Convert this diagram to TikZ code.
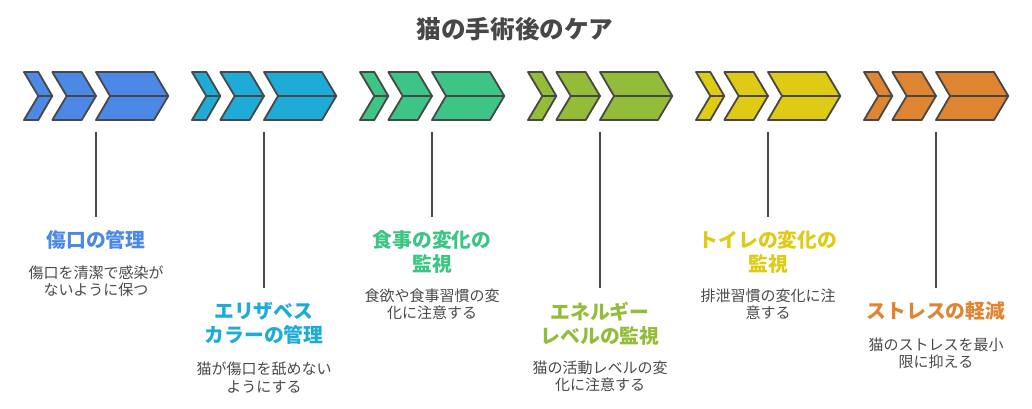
\documentclass[tikz,border=0pt]{standalone}
\usepackage{fontspec}
\setmainfont{Noto Sans CJK JP}
\definecolor{cblue}{HTML}{4C88E6}
\definecolor{ccyan}{HTML}{1FABD8}
\definecolor{cgreen}{HTML}{3CC584}
\definecolor{colive}{HTML}{93BD39}
\definecolor{cyellow}{HTML}{DFCB15}
\definecolor{corange}{HTML}{DF8531}
\definecolor{edge}{HTML}{474747}
\definecolor{desc}{HTML}{4A4A4A}
\tikzset{
  chev/.style={draw=edge, line width=1.8pt, line join=round},
  chevmid/.style={draw=edge, line width=1.8pt, line cap=round},
  conn/.style={draw=edge, line width=2pt},
  ttl/.style={anchor=north, inner sep=0pt, align=center, font=\fontsize{19.8}{24.5}\selectfont\bfseries},
  dsc/.style={anchor=north, inner sep=0pt, align=center, text=desc, font=\fontsize{15}{17.5}\selectfont},
}
\newcommand\chevgroup[2]{%
  \begin{scope}[xshift=#1pt]
    \path[chev, fill=#2] (0,72) -- (14.3,72) -- (28.3,96) -- (14.3,120) -- (0,120) -- (14.3,96) -- cycle;
    \draw[chevmid] (14.3,96) -- (28.3,96);
    \path[chev, fill=#2] (28.3,72) -- (57.7,72) -- (72,96) -- (57.7,120) -- (28.3,120) -- (42.7,96) -- cycle;
    \draw[chevmid] (42.7,96) -- (72,96);
    \path[chev, fill=#2] (72,72) -- (130,72) -- (144.3,96) -- (130,120) -- (72,120) -- (86,96) -- cycle;
    \draw[chevmid] (86,96) -- (144.3,96);
  \end{scope}}
\begin{document}
\begin{tikzpicture}[x=1pt,y=-1pt]
\useasboundingbox[fill=white] (0,0) rectangle (1032,408);
\node[inner sep=0pt, text=edge, font=\fontsize{24.6}{28}\selectfont\bfseries] (title) at (515,29) {猫の手術後のケア};

\chevgroup{24}{cblue}
\chevgroup{192}{ccyan}
\chevgroup{360}{cgreen}
\chevgroup{528}{colive}
\chevgroup{696}{cyellow}
\chevgroup{864}{corange}

% group 1
\coordinate (s1) at (96,131.7);
\coordinate (e1) at (96,216.7);
\node[ttl, text=cblue] (t1) at (96,230) {傷口の管理};
\node[dsc] (d1) at (96,265.3) {傷口を清潔で感染が\\ないように保つ};
\draw[conn] (s1) -- (e1);

% group 2
\coordinate (s2) at (264,131.7);
\coordinate (e2) at (264,288);
\node[ttl, text=ccyan] (t2) at (264,301.7) {エリザベス\\カラーの管理};
\node[dsc] (d2) at (264,361.6) {猫が傷口を舐めない\\ようにする};
\draw[conn] (s2) -- (e2);

% group 3
\coordinate (s3) at (432,131.7);
\coordinate (e3) at (432,216.7);
\node[ttl, text=cgreen] (t3) at (432,230) {食事の変化の\\監視};
\node[dsc] (d3) at (432,288.6) {食欲や食事習慣の変\\化に注意する};
\draw[conn] (s3) -- (e3);

% group 4
\coordinate (s4) at (600,131.7);
\coordinate (e4) at (600,288);
\node[ttl, text=colive] (t4) at (600,301.7) {エネルギー\\レベルの監視};
\node[dsc] (d4) at (600,360.6) {猫の活動レベルの変\\化に注意する};
\draw[conn] (s4) -- (e4);

% group 5
\coordinate (s5) at (768,131.7);
\coordinate (e5) at (768,216.7);
\node[ttl, text=cyellow] (t5) at (768,230) {トイレの変化の\\監視};
\node[dsc] (d5) at (768,288.6) {排泄習慣の変化に注\\意する};
\draw[conn] (s5) -- (e5);

% group 6
\coordinate (s6) at (936,131.7);
\coordinate (e6) at (936,288);
\node[ttl, text=corange] (t6) at (936,301.7) {ストレスの軽減};
\node[dsc] (d6) at (936,337.6) {猫のストレスを最小\\限に抑える};
\draw[conn] (s6) -- (e6);
\end{tikzpicture}
\end{document}
